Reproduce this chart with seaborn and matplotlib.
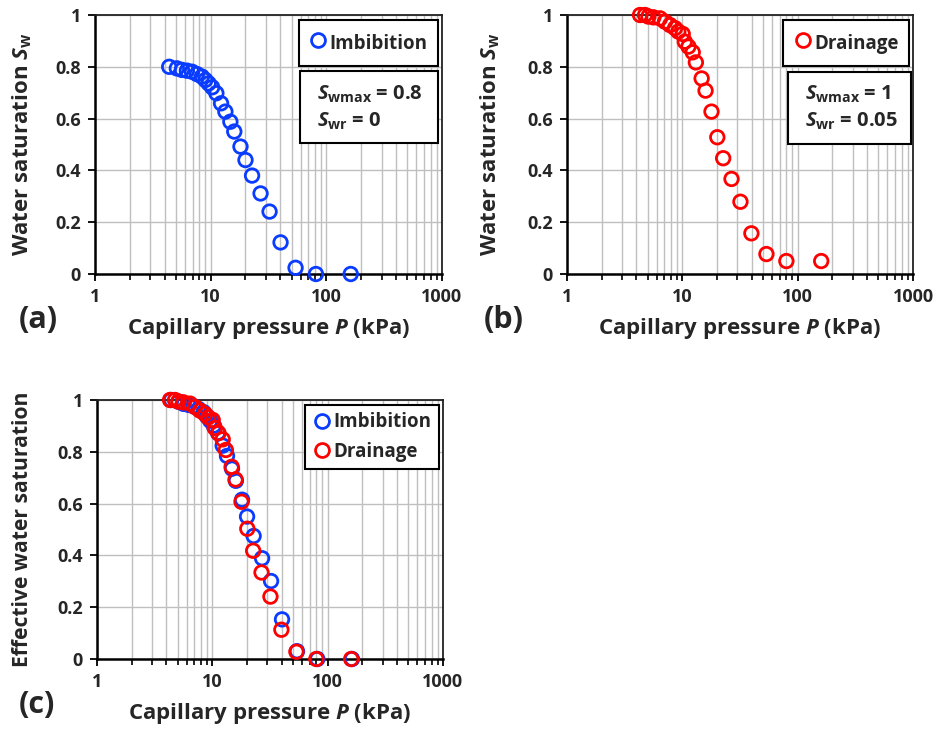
import numpy as np
import pandas as pd
import matplotlib
matplotlib.use("Agg")
import matplotlib.pyplot as plt
from matplotlib.lines import Line2D
from matplotlib.patches import Rectangle
from matplotlib.ticker import FixedLocator, FuncFormatter, LogLocator, NullFormatter
import seaborn as sns

# ---------------- data ----------------
p_imb = [4.38, 5.1, 5.64, 6.23, 6.89, 7.6, 8.4, 9.0, 9.6, 10.3, 11.2, 12.3, 13.4,
         14.8, 16.0, 18.1, 20.0, 22.8, 27.0, 32.3, 40.2, 54.2, 81.3, 162.5]
sw_imb = [0.80, 0.794, 0.788, 0.785, 0.781, 0.772, 0.762, 0.749, 0.736, 0.721, 0.698,
          0.659, 0.627, 0.588, 0.550, 0.492, 0.440, 0.380, 0.311, 0.241, 0.122,
          0.024, 0.0, 0.0]
se_imb = [1.0, 0.993, 0.985, 0.981, 0.976, 0.965, 0.953, 0.936, 0.92, 0.901, 0.873,
          0.824, 0.784, 0.735, 0.688, 0.615, 0.55, 0.475, 0.389, 0.301, 0.153,
          0.03, 0.0, 0.0]

p_dra = [4.3, 4.75, 5.08, 5.61, 6.41, 7.08, 7.82, 8.64, 9.23, 10.07, 10.5, 11.3,
         12.3, 13.1, 14.7, 15.9, 17.9, 20.1, 22.6, 26.7, 31.9, 39.7, 53.6, 79.8, 160.0]
sw_dra = [1.0, 1.0, 0.994, 0.991, 0.987, 0.974, 0.961, 0.949, 0.936, 0.927, 0.897,
          0.878, 0.856, 0.817, 0.755, 0.708, 0.627, 0.528, 0.447, 0.367, 0.279,
          0.157, 0.077, 0.05, 0.05]
se_dra = [1.0, 1.0, 0.994, 0.991, 0.986, 0.973, 0.959, 0.946, 0.933, 0.923, 0.892,
          0.872, 0.848, 0.807, 0.742, 0.693, 0.607, 0.503, 0.418, 0.334, 0.241,
          0.113, 0.028, 0.0, 0.0]

x_ticks = [1, 10, 100, 1000]
y_ticks = [0, 0.2, 0.4, 0.6, 0.8, 1.0]

BLUE = "#0a3cff"
RED = "#ff0000"
FONT = ["Open Sans", "DejaVu Sans"]

sns.set_theme(style="white")
plt.rcParams["font.family"] = FONT
plt.rcParams["font.weight"] = "bold"
plt.rcParams["axes.labelweight"] = "bold"
plt.rcParams["mathtext.fontset"] = "custom"
plt.rcParams["mathtext.rm"] = "Open Sans:bold"
plt.rcParams["mathtext.it"] = "Open Sans:italic:bold"
plt.rcParams["mathtext.bf"] = "Open Sans:bold"

W, H = 937, 731
fig = plt.figure(figsize=(W / 100, H / 100), dpi=100)


def px_axes(l, t, r, b):
    return fig.add_axes([l / W, 1 - b / H, (r - l) / W, (b - t) / H])


ax_a = px_axes(95, 15, 442, 274)
ax_b = px_axes(567, 15, 913, 274)
ax_c = px_axes(97, 400, 443, 659)

MS = 95
LW = 2.0


def scatter(ax, x, y, color):
    df = pd.DataFrame({"P": x, "S": y})
    sns.scatterplot(data=df, x="P", y="S", ax=ax, marker="o", s=MS,
                    facecolor="none", edgecolor=color, linewidth=LW,
                    zorder=5, clip_on=False, legend=False)


def style(ax, ylabel, ylab_x, ylab_size=16):
    ax.set_xscale("log")
    ax.set_xlim(1, 1000)
    ax.set_ylim(0, 1)
    ax.xaxis.set_major_locator(FixedLocator(x_ticks))
    ax.xaxis.set_major_formatter(FuncFormatter(lambda v, p: f"{v:g}"))
    ax.xaxis.set_minor_locator(LogLocator(base=10, subs=np.arange(2, 10)))
    ax.xaxis.set_minor_formatter(NullFormatter())
    ax.yaxis.set_major_locator(FixedLocator(y_ticks))
    ax.yaxis.set_major_formatter(FuncFormatter(lambda v, p: f"{v:g}"))
    ax.grid(True, which="major", axis="both", color="#bfbfbf", linewidth=1.0)
    ax.grid(True, which="minor", axis="x", color="#bfbfbf", linewidth=1.0)
    ax.set_axisbelow(True)
    for s in ["left", "bottom"]:
        ax.spines[s].set_color("black")
        ax.spines[s].set_linewidth(1.8)
    for s in ["top", "right"]:
        ax.spines[s].set_color("#222222")
        ax.spines[s].set_linewidth(1.3)
        ax.spines[s].set_visible(True)
    ax.tick_params(axis="both", which="major", direction="out", length=5, width=1.3,
                   color="black", labelsize=13, pad=5, bottom=True, left=True)
    ax.tick_params(axis="x", which="minor", direction="out", length=4, width=1.2,
                   color="black", bottom=True)
    for t in ax.get_xticklabels() + ax.get_yticklabels():
        t.set_fontweight("bold")
    ax.set_xlabel("Capillary pressure $P$ (kPa)", fontsize=16, fontweight="bold")
    ax.set_ylabel(ylabel, fontsize=ylab_size, fontweight="bold")
    ax.xaxis.set_label_coords(0.5, -0.21)
    ax.xaxis.label.set_va("center")
    ax.yaxis.set_label_coords(ylab_x, 0.5)
    ax.yaxis.label.set_va("center")


def legend(ax, entries, bbox, borderpad, spacing=0.45, handleheight=0.7):
    handles = [Line2D([], [], linestyle="none", marker="o", markersize=10,
                      markerfacecolor="none", markeredgecolor=c, markeredgewidth=LW,
                      label=l) for l, c in entries]
    leg = ax.legend(handles=handles, loc="upper right", bbox_to_anchor=bbox,
                    frameon=True, fancybox=False, framealpha=1, edgecolor="black",
                    prop={"family": FONT, "weight": "bold", "size": 13.5},
                    handletextpad=0.1, handlelength=1.0, borderpad=borderpad,
                    labelspacing=spacing, borderaxespad=0,
                    handleheight=handleheight)
    leg.get_frame().set_linewidth(1.5)
    leg.set_zorder(10)
    return leg


def textbox(ax, x0, y0, x1, y1, lines, tx):
    ax.add_patch(Rectangle((x0, y0), x1 - x0, y1 - y0, transform=ax.transAxes,
                           facecolor="white", edgecolor="black", linewidth=1.5,
                           zorder=10, clip_on=False))
    for (s, ty) in zip(lines, [0.695, 0.59]):
        ax.text(tx, ty, s, transform=ax.transAxes, fontsize=14.5, fontweight="bold",
                ha="left", va="center", zorder=11)


# (a)
scatter(ax_a, p_imb, sw_imb, BLUE)
style(ax_a, "Water saturation $S_\\mathrm{w}$", -0.21)
legend(ax_a, [("Imbibition", BLUE)], (0.988, 0.981), 0.55, handleheight=1.72)
textbox(ax_a, 0.591, 0.506, 0.988, 0.784,
        ["$S_\\mathrm{wmax}$ = 0.8", "$S_\\mathrm{wr}$ = 0"], 0.64)

# (b)
scatter(ax_b, p_dra, sw_dra, RED)
style(ax_b, "Water saturation $S_\\mathrm{w}$", -0.222)
legend(ax_b, [("Drainage", RED)], (0.988, 0.981), 0.55, handleheight=1.72)
textbox(ax_b, 0.639, 0.502, 0.994, 0.780,
        ["$S_\\mathrm{wmax}$ = 1", "$S_\\mathrm{wr}$ = 0.05"], 0.688)

# (c)
scatter(ax_c, p_imb, se_imb, BLUE)
scatter(ax_c, p_dra, se_dra, RED)
style(ax_c, "Effective water saturation", -0.214, ylab_size=15.2)
legend(ax_c, [("Imbibition", BLUE), ("Drainage", RED)], (0.988, 0.981), 0.4, 0.5)

# panel letters
for s, x, y in [("(a)", 38, 320), ("(b)", 504, 320), ("(c)", 37, 705)]:
    fig.text(x / W, 1 - y / H, s, fontsize=22, fontweight="bold",
             ha="center", va="center")

fig.savefig("out.png", dpi=100)
